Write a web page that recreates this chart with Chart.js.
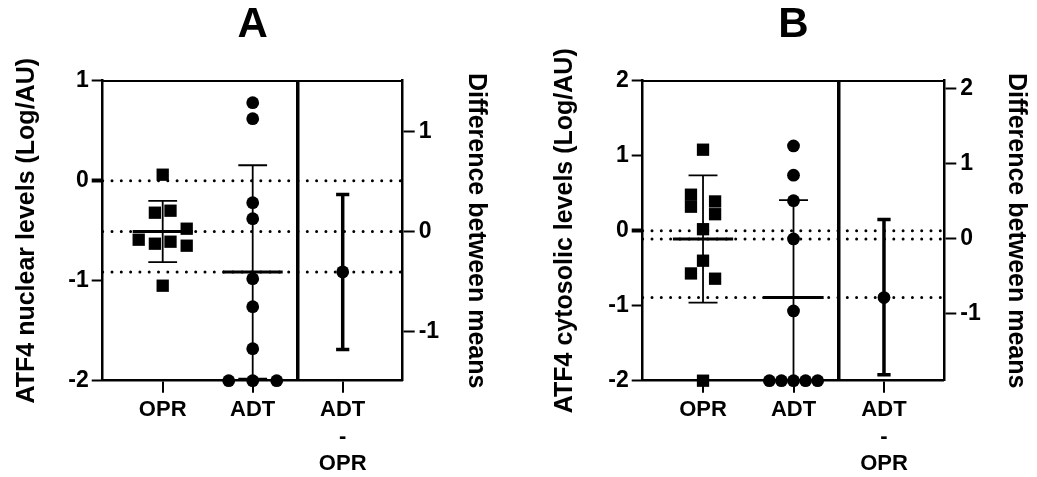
<!DOCTYPE html>
<html>
<head>
<meta charset="utf-8">
<script src="https://cdn.jsdelivr.net/npm/chart.js@4.4.0/dist/chart.umd.min.js"></script>
<style>
    body { margin: 0; background: #fff; }
    #wrap { position: relative; width: 1037px; height: 477px; }
    canvas { position: absolute; top: 0; }
    #chartA { left: 0; }
    #chartB { left: 518px; }
</style>
</head>
<body>
<div id="wrap">
    <canvas id="chartA" width="518" height="477"></canvas>
    <canvas id="chartB" width="519" height="477"></canvas>
</div>
<script>
// Categorías del eje x
const groupLabels = ['OPR', 'ADT', ['ADT', '-', 'OPR']];
const diffTitle = 'Difference between means';

// Panel A: ATF4 nuclear (Log/AU)
const nuclearOPR = [0.06, -0.32, -0.30, -0.48, -0.59, -0.63, -0.61, -0.65, -1.05];
const nuclearOPRJitter = [0, -0.13, 0.13, 0.4, -0.4, -0.13, 0.13, 0.4, 0];
const nuclearADT = [0.78, 0.62, -0.22, -0.38, -0.98, -1.26, -1.68, -2, -2, -2];
const nuclearADTJitter = [0, 0, 0, 0, 0, 0, 0, -0.4, 0, 0.4];
const nuclearDiffCI = [-1.18, 0.37];
const nuclearTicks = [-2, -1, 0, 1];
const nuclearDiffTicks = [-1, 0, 1];

// Panel B: ATF4 citosólico (Log/AU)
const cytoOPR = [1.08, 0.48, 0.32, 0.39, 0.22, 0.02, -0.40, -0.57, -0.64, -2];
const cytoOPRJitter = [0, -0.2, -0.2, 0.2, 0.2, 0, 0, -0.2, 0.2, 0];
const cytoADT = [1.13, 0.74, 0.40, -0.11, -1.07, -2, -2, -2, -2, -2];
const cytoADTJitter = [0, 0, 0, 0, 0, -0.4, -0.2, 0, 0.2, 0.4];
const cytoDiffCI = [-1.81, 0.26];
const cytoTicks = [-2, -1, 0, 1, 2];
const cytoDiffTicks = [-1, 0, 1, 2];

Chart.defaults.font.family = "'Liberation Sans', Arial, sans-serif";
Chart.defaults.font.weight = 'bold';
Chart.defaults.color = '#000';

function mean(arr) {
    return arr.reduce((a, b) => a + b, 0) / arr.length;
}

function sd(arr) {
    const m = mean(arr);
    return Math.sqrt(arr.reduce((a, b) => a + (b - m) ** 2, 0) / (arr.length - 1));
}

// Barra de error: tapa superior, línea vertical, tapa inferior (null corta la línea)
function errorBar(x, lo, hi, half) {
    return [
        { x: x - half, y: hi }, { x: x + half, y: hi }, { x: x, y: null },
        { x: x, y: hi }, { x: x, y: lo }, { x: x, y: null },
        { x: x - half, y: lo }, { x: x + half, y: lo }
    ];
}

function lineSet(data, width, extra) {
    return Object.assign({
        data: data,
        showLine: true,
        pointRadius: 0,
        borderColor: '#000',
        borderWidth: width,
        spanGaps: false
    }, extra || {});
}

function buildPanel(canvasId, p) {
    const X_OPR = 1, X_ADT = 2.5, X_SPLIT = 3.25, X_DIFF = 4;
    const mO = mean(p.opr), mA = mean(p.adt);
    const sO = sd(p.opr), sA = sd(p.adt);
    const diff = mA - mO;

    const datasets = [
        {
            data: p.opr.map((v, i) => ({ x: X_OPR + p.oprJitter[i], y: v })),
            pointStyle: 'rect', pointRadius: 8.7,
            pointBackgroundColor: '#000', pointBorderWidth: 0, clip: false
        },
        {
            data: p.adt.map((v, i) => ({ x: X_ADT + p.adtJitter[i], y: v })),
            pointStyle: 'circle', pointRadius: 6.4,
            pointBackgroundColor: '#000', pointBorderWidth: 0, clip: false
        },
        {
            yAxisID: 'y2',
            data: [{ x: X_DIFF, y: diff }],
            pointStyle: 'circle', pointRadius: 6.4,
            pointBackgroundColor: '#000', pointBorderWidth: 0, clip: false
        },
        lineSet(errorBar(X_DIFF, p.diffCI[0], p.diffCI[1], 0.11), 3.5, { yAxisID: 'y2', clip: 0 }),
        lineSet([{ x: X_OPR - 0.5, y: mO }, { x: X_OPR + 0.5, y: mO }], 3),
        lineSet([{ x: X_ADT - 0.5, y: mA }, { x: X_ADT + 0.5, y: mA }], 3),
        lineSet(errorBar(X_OPR, mO - sO, mO + sO, 0.24), 1.8, { clip: 0 }),
        lineSet(errorBar(X_ADT, mA - sA, mA + sA, 0.24), 1.8, { clip: 0 })
    ];

    // Líneas punteadas de referencia: cero y las dos medias
    [0, mO, mA].forEach(level => {
        datasets.push(lineSet([{ x: 0, y: level }, { x: 5, y: level }], 3, {
            borderDash: [0, 9.3], borderCapStyle: 'round'
        }));
    });

    const ctx = document.getElementById(canvasId).getContext('2d');
    new Chart(ctx, {
        type: 'scatter',
        data: { datasets: datasets },
        options: {
            responsive: false,
            animation: false,
            events: [],
            layout: { padding: 0 },
            plugins: {
                legend: { display: false },
                tooltip: { enabled: false },
                title: {
                    display: true,
                    text: p.letter,
                    fullSize: false,
                    color: '#000',
                    font: { size: 42, weight: 'bold', lineHeight: 1 },
                    padding: { top: 4, bottom: 34.7 }
                }
            },
            scales: {
                x: {
                    type: 'linear',
                    position: 'bottom',
                    min: 0,
                    max: 5,
                    afterBuildTicks: ax => {
                        ax.ticks = [X_OPR, X_ADT, X_SPLIT, X_DIFF].map(v => ({ value: v }));
                    },
                    afterFit: ax => { ax.height = 96.3; },
                    ticks: {
                        autoSkip: false,
                        maxRotation: 0,
                        minRotation: 0,
                        padding: 4,
                        font: { size: 22, weight: 'bold', lineHeight: 1.22 },
                        callback: v => v === X_OPR ? groupLabels[0]
                            : v === X_ADT ? groupLabels[1]
                            : v === X_DIFF ? groupLabels[2] : ''
                    },
                    grid: {
                        drawOnChartArea: true,
                        tickLength: 12,
                        color: '#000',
                        tickColor: '#000',
                        lineWidth: c => (c.tick && c.tick.value === X_SPLIT ? 3.5 : 0),
                        tickWidth: c => (c.tick && c.tick.value === X_SPLIT ? 0 : 2)
                    },
                    border: { display: true, color: '#000', width: 2.5 }
                },
                x2: {
                    type: 'linear',
                    position: 'top',
                    min: 0,
                    max: 5,
                    afterFit: ax => { ax.height = 0; },
                    ticks: { display: false },
                    grid: { display: false, drawTicks: false },
                    border: { display: true, color: '#000', width: 2 }
                },
                y: {
                    position: 'left',
                    min: p.ticks[0],
                    max: p.ticks[p.ticks.length - 1],
                    afterBuildTicks: ax => { ax.ticks = p.ticks.map(v => ({ value: v })); },
                    afterFit: ax => { ax.width = p.leftW; },
                    ticks: { padding: 3, font: { size: 23, weight: 'bold' } },
                    grid: {
                        drawOnChartArea: false,
                        tickLength: 11,
                        tickColor: '#000',
                        tickWidth: c => (c.tick && c.tick.value === 0 ? 4 : 2)
                    },
                    border: { display: true, color: '#000', width: 2.5 },
                    title: {
                        display: true,
                        text: p.yTitle,
                        color: '#000',
                        font: { size: 25, weight: 'bold', lineHeight: 1.2 },
                        padding: { top: p.leftPad, bottom: 0 }
                    }
                },
                y2: {
                    position: 'right',
                    // el cero de la diferencia coincide con la media de OPR
                    min: p.ticks[0] - mO,
                    max: p.ticks[p.ticks.length - 1] - mO,
                    afterBuildTicks: ax => { ax.ticks = p.diffTicks.map(v => ({ value: v })); },
                    afterFit: ax => { ax.width = p.rightW; },
                    ticks: { padding: 4, font: { size: 23, weight: 'bold' } },
                    grid: { drawOnChartArea: false, tickLength: 12, tickColor: '#000', tickWidth: 2 },
                    border: { display: true, color: '#000', width: 2.5 },
                    title: {
                        display: true,
                        text: diffTitle,
                        color: '#000',
                        font: { size: 25, weight: 'bold', lineHeight: 1.2 },
                        padding: { top: p.rightPad, bottom: 0 }
                    }
                }
            }
        }
    });
}

buildPanel('chartA', {
    letter: 'A',
    yTitle: 'ATF4 nuclear levels (Log/AU)',
    opr: nuclearOPR, oprJitter: nuclearOPRJitter,
    adt: nuclearADT, adtJitter: nuclearADTJitter,
    diffCI: nuclearDiffCI,
    ticks: nuclearTicks, diffTicks: nuclearDiffTicks,
    leftW: 102.7, rightW: 115.3, leftPad: 12, rightPad: 27
});

buildPanel('chartB', {
    letter: 'B',
    yTitle: 'ATF4 cytosolic levels (Log/AU)',
    opr: cytoOPR, oprJitter: cytoOPRJitter,
    adt: cytoADT, adtJitter: cytoADTJitter,
    diffCI: cytoDiffCI,
    ticks: cytoTicks, diffTicks: cytoDiffTicks,
    leftW: 124.7, rightW: 92.7, leftPad: 32, rightPad: 6
});
</script>
</body>
</html>
